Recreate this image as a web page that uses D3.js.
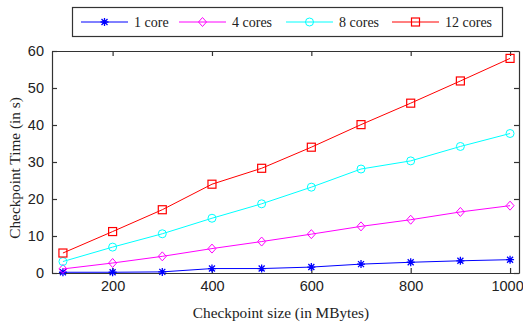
<!DOCTYPE html>
<html>
  <head>
    <meta charset="utf-8">
    <title>Checkpoint time</title>
    <script src="https://d3js.org/d3.v7.min.js"></script>
    <style>
      body { margin: 0; background: #fff; }
      svg { font-family: "Liberation Serif", "DejaVu Serif", serif; }
      .axis text { font-size: 14.5px; fill: #222; }
      .label { font-size: 14px; fill: #222; }
      .title { font-size: 15.3px; fill: #222; }
    </style>
  </head>

  <body>
    <svg id="chart" width="523" height="322"></svg>

    <script>
      // data
      sizes = [100, 200, 300, 400, 500, 600, 700, 800, 900, 1000];
      core1 = [0.2, 0.2, 0.3, 1.2, 1.2, 1.6, 2.4, 2.9, 3.3, 3.6];
      cores4 = [1.1, 2.7, 4.5, 6.6, 8.5, 10.5, 12.6, 14.4, 16.5, 18.2];
      cores8 = [3.1, 7.0, 10.6, 14.8, 18.7, 23.2, 28.1, 30.3, 34.2, 37.7];
      cores12 = [5.4, 11.2, 17.1, 24.0, 28.3, 34.0, 40.1, 45.9, 51.9, 58.0];
      seriesNames = ["1 core", "4 cores", "8 cores", "12 cores"];
      xTicks = [200, 400, 600, 800, 1000];
      yTicks = [0, 10, 20, 30, 40, 50, 60];

      series = [
        { name: seriesNames[0], values: core1, color: "#0000ff", marker: "star" },
        { name: seriesNames[1], values: cores4, color: "#ff00ff", marker: "diamond" },
        { name: seriesNames[2], values: cores8, color: "#00ffff", marker: "circle" },
        { name: seriesNames[3], values: cores12, color: "#ff0000", marker: "square" }
      ];

      chart = d3.select("#chart");
      margin = { top: 51, right: 4, bottom: 49, left: 52 };
      width = 523;
      height = 322;

      x = d3.scaleLinear()
        .domain([78, 1018])
        .range([margin.left, width - margin.right]);
      y = d3.scaleLinear()
        .domain([0, 60])
        .range([height - margin.bottom, margin.top]);

      // axes with inward ticks, boxed
      xAxisGroup = chart.append("g")
        .attr("class", "axis")
        .attr("transform", "translate(0," + y(0) + ")")
        .call(d3.axisBottom(x).tickValues(xTicks).tickFormat(d3.format("d"))
          .tickSizeInner(-5).tickSizeOuter(0).tickPadding(8));
      // last label sits on the right edge, nudge it in
      xAxisGroup.selectAll(".tick text").filter(d => d == 1000).attr("dx", "-3");
      chart.append("g")
        .attr("class", "axis")
        .attr("transform", "translate(" + x.range()[0] + ",0)")
        .call(d3.axisLeft(y).tickValues(yTicks).tickSizeInner(-5).tickSizeOuter(0).tickPadding(8));
      chart.append("g")
        .attr("class", "axis")
        .attr("transform", "translate(0," + y(60) + ")")
        .call(d3.axisTop(x).tickValues(xTicks).tickSizeInner(-5).tickSizeOuter(0).tickFormat(""));
      chart.append("g")
        .attr("class", "axis")
        .attr("transform", "translate(" + x.range()[1] + ",0)")
        .call(d3.axisRight(y).tickValues(yTicks).tickSizeInner(-5).tickSizeOuter(0).tickFormat(""));
      chart.selectAll(".axis path, .axis line").attr("stroke", "#333").attr("stroke-width", 1.2);
      chart.selectAll(".axis text").attr("font-family", null).attr("font-size", null);

      // axis titles
      chart.append("text")
        .attr("class", "title")
        .attr("x", 281)
        .attr("y", 318)
        .attr("text-anchor", "middle")
        .text("Checkpoint size (in MBytes)");
      chart.append("text")
        .attr("class", "title")
        .attr("transform", "translate(20," + ((y(0) + y(60)) / 2 + 6) + ") rotate(-90)")
        .attr("text-anchor", "middle")
        .text("Checkpoint Time (in s)");

      function drawMarker(g, type, color) {
        if (type == "star") {
          g.append("path")
            .attr("d", "M-4,0H4M0,-4V4M-3,-3L3,3M-3,3L3,-3")
            .attr("stroke", color).attr("stroke-width", 1.3);
        } else if (type == "diamond") {
          g.append("path").attr("d", "M0,-4.5L4,0L0,4.5L-4,0Z")
            .attr("fill", "none").attr("stroke", color);
        } else if (type == "circle") {
          g.append("circle").attr("r", 4)
            .attr("fill", "none").attr("stroke", color);
        } else {
          g.append("rect").attr("x", -4).attr("y", -4).attr("width", 8).attr("height", 8)
            .attr("fill", "none").attr("stroke", color).attr("stroke-width", 1.2);
        }
      }

      line = d3.line()
        .x((d, i) => x(sizes[i]))
        .y(d => y(d));

      series.forEach(s => {
        chart.append("path")
          .attr("d", line(s.values))
          .attr("fill", "none")
          .attr("stroke", s.color)
          .attr("stroke-width", 1);
        s.values.forEach((v, i) => {
          g = chart.append("g")
            .attr("transform", "translate(" + x(sizes[i]) + "," + y(v) + ")");
          drawMarker(g, s.marker, s.color);
        });
      });

      // legend
      legend = chart.append("g");
      legend.append("rect")
        .attr("x", 72.5).attr("y", 7.5)
        .attr("width", 430).attr("height", 29)
        .attr("fill", "#fff").attr("stroke", "#333").attr("stroke-width", 1.2);
      legendX = [81, 179, 286, 392];
      series.forEach((s, i) => {
        lg = legend.append("g").attr("transform", "translate(" + legendX[i] + ",22)");
        lg.append("line").attr("x1", 0).attr("x2", 47)
          .attr("stroke", s.color).attr("stroke-width", 1);
        mg = lg.append("g").attr("transform", "translate(23.5,0)");
        drawMarker(mg, s.marker, s.color);
        lg.append("text")
          .attr("class", "label")
          .attr("x", 53).attr("y", 5)
          .text(s.name);
      });
    </script>
  </body>
</html>
